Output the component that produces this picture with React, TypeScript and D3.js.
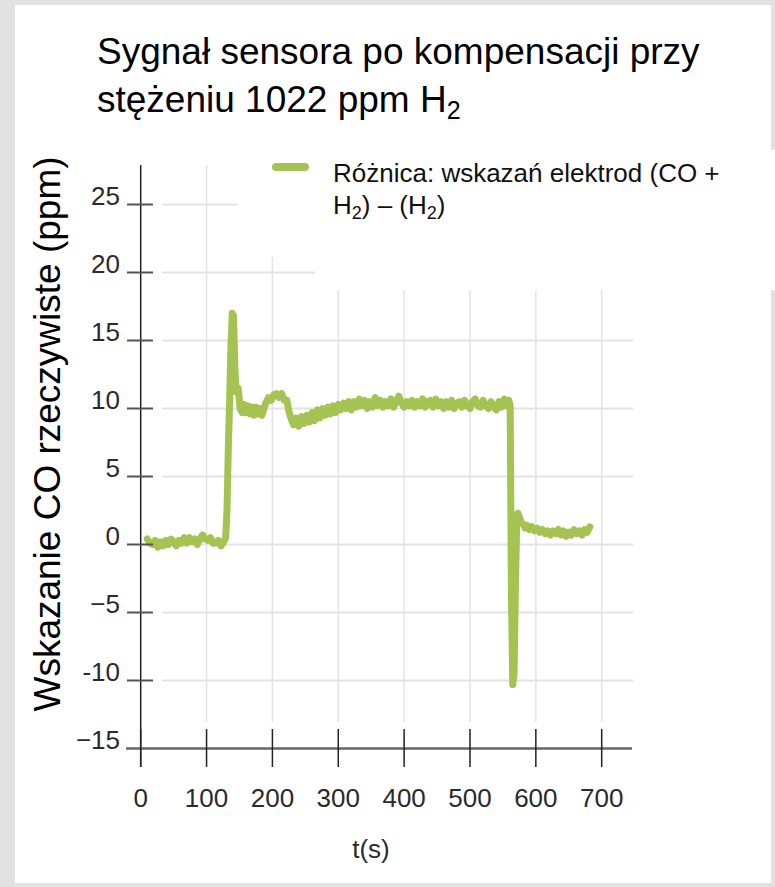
import React from "react";
import * as d3 from "d3";

const times = [10,14,18,22,26,30,34,38,42,46,50,54,58,62,66,70,74,78,82,86,90,94,98,102,106,110,114,118,122,126,129,131,133,135,137,139,141,143,145,148,151,154,157,160,163,166,169,172,175,178,181,184,187,190,194,198,202,206,210,214,218,222,225,228,232,236,240,244,248,252,256,260,264,268,272,276,280,284,288,292,296,300,304,308,312,316,320,324,328,332,336,340,344,348,352,356,360,364,368,372,376,380,384,388,392,396,400,404,408,412,416,420,424,428,432,436,440,444,448,452,456,460,464,468,472,476,480,484,488,492,496,500,504,508,512,516,520,524,528,532,536,540,544,548,552,556,559,561,563,565,567,569,571,573,575,578,581,584,587,590,594,598,602,606,610,614,618,622,626,630,634,638,642,646,650,654,658,662,666,670,674,678,682];
const values = [0.4,0.1,0.0,0.3,-0.2,0.2,-0.1,0.3,0.0,0.4,0.2,-0.1,0.3,0.1,0.5,0.1,0.5,0.2,0.4,0.0,0.4,0.7,0.4,0.3,0.5,0.1,0.1,0.3,-0.1,0.2,0.5,2.5,7.0,10.5,14.5,17.0,16.8,13.0,11.2,11.5,10.0,9.7,10.3,9.7,10.2,9.6,10.1,9.5,10.1,9.6,10.0,9.5,10.0,10.4,10.8,10.6,11.0,11.1,10.8,11.1,10.6,10.6,9.8,9.3,8.8,9.3,8.7,9.4,8.9,9.5,9.0,9.7,9.1,9.9,9.3,10.0,9.5,10.1,9.6,10.2,9.7,10.3,9.9,10.4,10.0,10.5,9.9,10.5,10.1,10.7,10.2,10.6,10.0,10.5,10.1,10.8,10.2,10.6,10.1,10.5,10.2,10.7,10.1,10.5,10.9,10.4,10.1,10.5,10.2,10.6,10.1,10.5,10.2,10.7,10.1,10.5,10.6,10.1,10.7,10.2,10.5,10.0,10.5,10.1,10.6,10.0,10.4,10.5,10.1,10.6,10.2,10.0,10.5,10.7,10.2,10.1,10.6,10.2,10.0,10.5,10.1,9.9,10.5,10.1,10.7,10.2,10.6,10.2,-4.0,-10.3,-9.5,-3.0,1.5,2.3,2.0,1.6,1.5,1.2,1.4,1.1,1.3,1.0,1.2,0.9,1.1,0.8,1.0,0.7,1.0,0.8,1.1,0.7,1.0,0.6,0.9,0.7,1.1,0.8,1.0,0.7,1.1,0.9,1.3];

const xTicks = [0,100,200,300,400,500,600,700];
const xTickLabels = ["0","100","200","300","400","500","600","700"];
const yTicks = [25,20,15,10,5,0,-5,-10,-15];
const yTickLabels = ["25","20","15","10","5","0","\u22125","-10","\u221215"];

const titleLine1 = "Sygnał sensora po kompensacji przy";
const titleLine2 = "stężeniu 1022 ppm H";
const yAxisTitle = "Wskazanie CO rzeczywiste (ppm)";
const xAxisTitle = "t(s)";
const legendLine1 = "Różnica: wskazań elektrod (CO +";

const FONT = "'Liberation Sans', Arial, sans-serif";
const GREEN = "#a4c353";

export default function App() {
  const W = 775, H = 887;
  const x = d3.scaleLinear().domain([0, 700]).range([140.7, 601.7]);
  const y = d3.scaleLinear().domain([-15, 25]).range([748.5, 204.5]);
  const pts = times.map((t, i) => [t, values[i]] as [number, number]);
  const line = d3.line<[number, number]>().x(d => x(d[0])).y(d => y(d[1]));
  const gridX0 = 162, gridX1 = 633, gridY0 = 165, gridY1 = 722;

  return (
    <svg width={W} height={H} style={{ position: "absolute", left: 0, top: 0 }} fontFamily={FONT}>
      <rect x={0} y={0} width={W} height={H} fill="#e2e2e2" />
      <rect x={15} y={5} width={756} height={878} fill="#ffffff" />
      {/* gridlines */}
      {yTicks.filter(v => v !== -15).map(v => (
        <line key={"gy" + v} x1={gridX0} x2={gridX1} y1={y(v)} y2={y(v)} stroke="#e3e3e3" strokeWidth={2} />
      ))}
      {xTicks.filter(v => v !== 0).map(v => (
        <line key={"gx" + v} x1={x(v)} x2={x(v)} y1={gridY0} y2={gridY1} stroke="#e3e3e3" strokeWidth={1.5} />
      ))}
      {/* legend backdrop masking gridlines */}
      <rect x={238} y={150} width={540} height={107} fill="#ffffff" />
      <rect x={315} y={150} width={460} height={140} fill="#ffffff" />
      {/* data */}
      <path d={line(pts) || ""} fill="none" stroke={GREEN} strokeWidth={7} strokeLinejoin="round" strokeLinecap="round" />
      {/* y axis */}
      <line x1={x(0)} x2={x(0)} y1={165} y2={767} stroke="#222" strokeWidth={1.5} />
      {yTicks.filter(v => v !== -15).map(v => (
        <line key={"ty" + v} x1={127} x2={153} y1={y(v)} y2={y(v)} stroke="#555" strokeWidth={2} />
      ))}
      {yTicks.map((v, i) => (
        <text key={"ly" + v} x={120} y={y(v)} textAnchor="end" fontSize={26} fill="#2a2a2a">{yTickLabels[i]}</text>
      ))}
      {/* x axis */}
      <line x1={126} x2={632} y1={y(-15)} y2={y(-15)} stroke="#666" strokeWidth={2.5} />
      {xTicks.map(v => (
        <line key={"tx" + v} x1={x(v)} x2={x(v)} y1={729} y2={767} stroke="#222" strokeWidth={1.5} />
      ))}
      {xTicks.map((v, i) => (
        <text key={"lx" + v} x={x(v)} y={807} textAnchor="middle" fontSize={26} fill="#2a2a2a">{xTickLabels[i]}</text>
      ))}
      <text x={371} y={858} textAnchor="middle" fontSize={26} fill="#2a2a2a">{xAxisTitle}</text>
      {/* y title */}
      <text transform={`translate(60,434) rotate(-90)`} textAnchor="middle" fontSize={37} fill="#000">{yAxisTitle}</text>
      {/* title */}
      <text x={97} y={64} fontSize={37} fill="#000">{titleLine1}</text>
      <text x={97} y={112} fontSize={37} fill="#000">{titleLine2}<tspan fontSize={25} dy={7}>2</tspan></text>
      {/* legend */}
      <line x1={276} x2={305} y1={167} y2={167} stroke={GREEN} strokeWidth={8} strokeLinecap="round" />
      <text x={333} y={182} fontSize={26} fill="#111">{legendLine1}</text>
      <text x={333} y={214} fontSize={26} fill="#111">
        H<tspan fontSize={18} dy={5}>2</tspan><tspan dy={-5}>) – (H</tspan><tspan fontSize={18} dy={5}>2</tspan><tspan dy={-5}>)</tspan>
      </text>
    </svg>
  );
}
